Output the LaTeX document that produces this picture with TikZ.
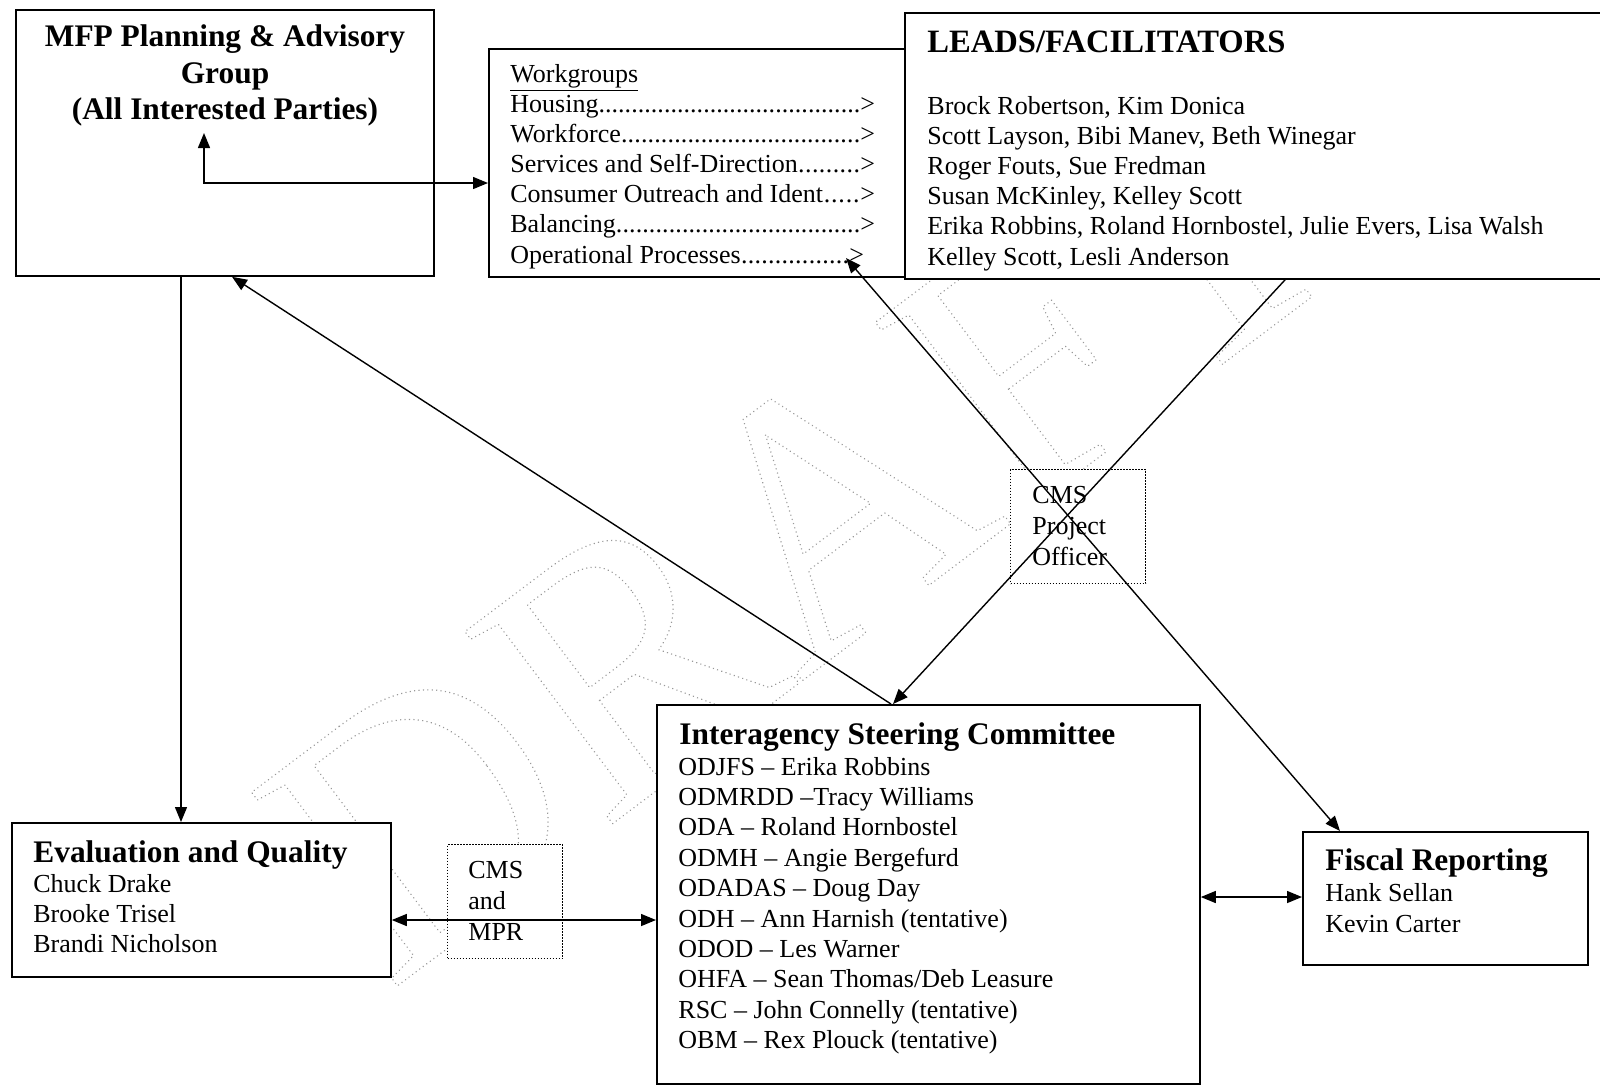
\documentclass[tikz,border=0pt]{standalone}
\usepackage{fontspec}
\setmainfont{Liberation Serif}
\usetikzlibrary{arrows.meta}
\makeatletter
\newcommand\wmoutline{\pgfsys@invoke{1 Tr 1 J [0 2.2] 0 d 0.8 w}}
\makeatother
\newcommand\leadline[2]{\makebox[#1][l]{#2\xleaders\hbox{.}\hfill}>}
\begin{document}
\begin{tikzpicture}[x=0.5pt,y=-0.5pt,
  box/.style={draw, line width=0.9pt, fill=white, inner sep=0pt, anchor=north west},
  dbox/.style={draw, line width=0.6pt, dash pattern=on 0.6pt off 0.9pt, fill=white, inner sep=0pt, anchor=north west},
  txt/.style={anchor=base west, inner sep=0pt, font=\fontsize{13}{15}\selectfont},
  ttl/.style={anchor=base west, inner sep=0pt, font=\fontsize{15.7}{18}\selectfont\bfseries},
  ctl/.style={anchor=base, inner sep=0pt, font=\fontsize{15.7}{18}\selectfont\bfseries},
  conn/.style={line width=0.7pt},
  sarr/.style={conn, -{Triangle[length=7.5pt,width=6pt]}},
  dbl/.style={conn, {Triangle[length=7.5pt,width=6pt]}-{Triangle[length=7.5pt,width=6pt]}}]
\useasboundingbox (0,0) rectangle (1600,1084);
\fill[white] (0,0) rectangle (1600,1084);

% watermark
\begin{scope}
\node[rotate=37, inner sep=0pt, text=black!40, font=\fontsize{185}{185}\selectfont] (wm) at (800,530) {\wmoutline DRAFT};
\end{scope}

% boxes
\node[box, minimum width=209pt, minimum height=133pt] (mfp) at (15,9) {};
\node[box, minimum width=208.5pt, minimum height=114pt] (wg) at (488,48) {};
\node[anchor=north west, inner sep=0pt, fill=white, minimum width=347.5pt, minimum height=132.5pt] (leads) at (905,13) {};
\draw[line width=0.9pt] (leads.north east) -- (leads.north west) -- (leads.south west) -- (leads.south east);
\node[dbox, minimum width=67.5pt, minimum height=57pt] (cmspo) at (1010,469) {};
\node[box, minimum width=271.5pt, minimum height=189.5pt] (isc) at (656,704) {};
\node[box, minimum width=189.5pt, minimum height=77pt] (eval) at (11,822) {};
\node[dbox, minimum width=57.5pt, minimum height=57pt] (cmsmpr) at (447,844) {};
\node[box, minimum width=142.5pt, minimum height=66.5pt] (fiscal) at (1302,831) {};

% MFP text
\node[ctl] (mfp1) at (225,46) {MFP Planning \& Advisory};
\node[ctl] (mfp2) at (225,83) {Group};
\node[ctl] (mfp3) at (225,119) {(All Interested Parties)};

% Workgroups text
\node[txt] (wg0) at (510,82) {\underline{Workgroups}};
\node[txt] (wg1) at (510,112) {\leadline{175pt}{Housing}};
\node[txt] (wg2) at (510,142.2) {\leadline{175pt}{Workforce}};
\node[txt] (wg3) at (510,172.4) {\leadline{175pt}{Services and Self-Direction}};
\node[txt] (wg4) at (510,202.6) {\leadline{175pt}{Consumer Outreach and Ident}};
\node[txt] (wg5) at (510,232.8) {\leadline{175pt}{Balancing}};
\node[txt] (wg6) at (510,263) {\leadline{169.5pt}{Operational Processes}};

% Leads text
\node[ttl, font=\fontsize{16.3}{18}\selectfont\bfseries] (ld0) at (927,52) {LEADS/FACILITATORS};
\node[txt] (ld1) at (927,114) {Brock Robertson, Kim Donica};
\node[txt] (ld2) at (927,144.2) {Scott Layson, Bibi Manev, Beth Winegar};
\node[txt] (ld3) at (927,174.4) {Roger Fouts, Sue Fredman};
\node[txt] (ld4) at (927,204.6) {Susan McKinley, Kelley Scott};
\node[txt] (ld5) at (927,234.8) {Erika Robbins, Roland Hornbostel, Julie Evers, Lisa Walsh};
\node[txt] (ld6) at (927,265) {Kelley Scott, Lesli Anderson};

% CMS Project Officer
\node[txt] (po1) at (1032,503) {CMS};
\node[txt] (po2) at (1032,534) {Project};
\node[txt] (po3) at (1032,565) {Officer};

% Interagency Steering Committee
\node[ttl] (isc0) at (679,744) {Interagency Steering Committee};
\node[txt] (isc1) at (678,775) {ODJFS – Erika Robbins};
\node[txt] (isc2) at (678,805.4) {ODMRDD –Tracy Williams};
\node[txt] (isc3) at (678,835.8) {ODA – Roland Hornbostel};
\node[txt] (isc4) at (678,866.2) {ODMH – Angie Bergefurd};
\node[txt] (isc5) at (678,896.6) {ODADAS – Doug Day};
\node[txt] (isc6) at (678,927) {ODH – Ann Harnish (tentative)};
\node[txt] (isc7) at (678,957.4) {ODOD – Les Warner};
\node[txt] (isc8) at (678,987.8) {OHFA – Sean Thomas/Deb Leasure};
\node[txt] (isc9) at (678,1018.2) {RSC – John Connelly (tentative)};
\node[txt] (isc10) at (678,1048.6) {OBM – Rex Plouck (tentative)};

% Evaluation and Quality
\node[ttl] (ev0) at (33,862) {Evaluation and Quality};
\node[txt] (ev1) at (33,892) {Chuck Drake};
\node[txt] (ev2) at (33,922) {Brooke Trisel};
\node[txt] (ev3) at (33,952) {Brandi Nicholson};

% CMS and MPR
\node[txt] (cm1) at (468,878) {CMS};
\node[txt] (cm2) at (468,909) {and};
\node[txt] (cm3) at (468,940) {MPR};

% Fiscal Reporting
\node[ttl] (fr0) at (1325,870) {Fiscal Reporting};
\node[txt] (fr1) at (1325,901) {Hank Sellan};
\node[txt] (fr2) at (1325,932) {Kevin Carter};

% connectors
\coordinate (mfparr) at (204,133);
\coordinate (mfpturn) at (204,183);
\draw[dbl] (mfparr) -- (mfpturn) -- (mfpturn -| wg.west);
\draw[sarr] (mfp.south -| 181,0) -- (eval.north -| 181,0);
\draw[sarr] (isc.north -| 891,0) -- (mfp.south -| 232,0);
\draw[sarr] (leads.south -| 1286,0) -- (isc.north -| 893,0);
\coordinate (oparr) at (846,258);
\draw[dbl] (oparr) -- (fiscal.north -| 1340,0);
\draw[dbl] (eval.east |- 0,920) -- (isc.west |- 0,920);
\draw[dbl] (isc.east |- 0,897) -- (fiscal.west |- 0,897);
\end{tikzpicture}
\end{document}
